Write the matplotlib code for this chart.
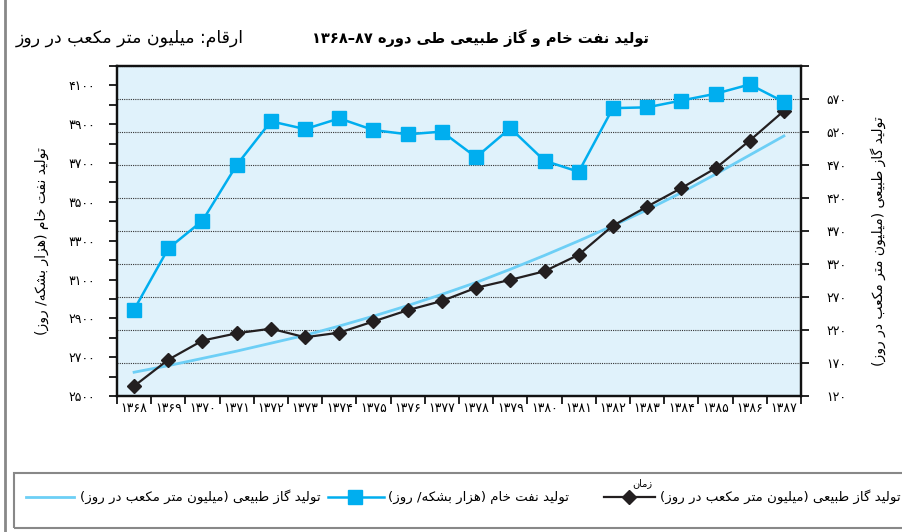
import numpy as np
import matplotlib.pyplot as plt
from matplotlib.lines import Line2D
from matplotlib.patches import Rectangle

years = [1368 + i for i in range(20)]
oil = [2945, 3260, 3403, 3690, 3915, 3875, 3930, 3870, 3848, 3862,
       3730, 3880, 3712, 3655, 3983, 3987, 4022, 4057, 4105, 4015]
gas = [135, 175, 204, 215, 222, 209, 216, 233, 250, 264,
       284, 296, 309, 334, 378, 407, 435, 465, 507, 552]
gas_trend = [156, 166, 177, 188, 200, 212, 226, 241, 257, 274,
             292, 312, 333, 355, 378, 402, 428, 456, 485, 514]

left_ticks = [2500, 2700, 2900, 3100, 3300, 3500, 3700, 3900, 4100]
right_ticks = [120, 170, 220, 270, 320, 370, 420, 470, 520, 570]

title = 'تولید نفت خام و گاز طبیعی طی دوره ۸۷–۱۳۶۸'
unit_text = 'ارقام: میلیون متر مکعب در روز'
oil_label = 'تولید نفت خام (هزار بشکه/ روز)'
gas_label = 'تولید گاز طبیعی (میلیون متر مکعب در روز)'
trend_label = 'تولید گاز طبیعی (میلیون متر مکعب در روز)'
time_word = 'زمان'

# persian shaping (matplotlib has no arabic shaping)
FOUR = {'ب': 0xFE8F, 'ت': 0xFE95, 'ث': 0xFE99, 'ج': 0xFE9D, 'ح': 0xFEA1,
        'خ': 0xFEA5, 'س': 0xFEB1, 'ش': 0xFEB5, 'ص': 0xFEB9, 'ض': 0xFEBD,
        'ط': 0xFEC1, 'ظ': 0xFEC5, 'ع': 0xFEC9, 'غ': 0xFECD, 'ف': 0xFED1,
        'ق': 0xFED5, 'ل': 0xFEDD, 'م': 0xFEE1, 'ن': 0xFEE5, 'ه': 0xFEE9,
        'پ': 0xFB56, 'چ': 0xFB7A, 'ک': 0xFB8E, 'گ': 0xFB92, 'ی': 0xFBFC}
TWO = {'ا': 0xFE8D, 'آ': 0xFE81, 'د': 0xFEA9, 'ذ': 0xFEAB, 'ر': 0xFEAD,
       'ز': 0xFEAF, 'ژ': 0xFB8A, 'و': 0xFEED}
DIGITS = '۰۱۲۳۴۵۶۷۸۹0123456789'


def fa(s):
    out = []
    for i, ch in enumerate(s):
        prev = s[i - 1] if i > 0 else ''
        nxt = s[i + 1] if i + 1 < len(s) else ''
        pj = prev in FOUR
        nj = nxt in FOUR or nxt in TWO
        if ch in FOUR:
            b = FOUR[ch]
            if pj and nj:
                ch = chr(b + 3)
            elif pj:
                ch = chr(b + 1)
            elif nj:
                ch = chr(b + 2)
            else:
                ch = chr(b)
        elif ch in TWO:
            ch = chr(TWO[ch] + (1 if pj else 0))
        out.append(ch)
    out = out[::-1]
    mirror = {'(': ')', ')': '('}
    res, run = [], []
    for ch in out:
        if ch in DIGITS:
            run.append(ch)
        else:
            res.extend(run[::-1])
            run = []
            res.append(mirror.get(ch, ch))
    res.extend(run[::-1])
    return ''.join(res)


def fa_num(n):
    return str(n).translate(str.maketrans('0123456789', '۰۱۲۳۴۵۶۷۸۹'))


W, H = 903, 532
fig = plt.figure(figsize=(W / 100, H / 100), dpi=100)
ax = fig.add_axes([117 / W, 1 - 396 / H, 684 / W, 330 / H])
ax2 = ax.twinx()
ax.set_zorder(2)
ax2.set_zorder(1)
ax.patch.set_visible(False)
ax2.patch.set_visible(True)
ax2.patch.set_facecolor('#E0F2FB')

x = np.arange(len(years))
ax2.plot(x, gas_trend, color='#6DCFF6', lw=2.0, zorder=3)
ax2.plot(x, gas, color='#231F20', lw=1.6, marker='D', ms=7, zorder=4)
ax.plot(x, oil, color='#00AEEF', lw=1.8, marker='s', ms=9.5, zorder=3)

ax.set_xlim(-0.5, len(years) - 0.5)
ax.set_ylim(2500, 4200)
ax2.set_ylim(120, 620)

ax.set_yticks(left_ticks)
ax.set_yticklabels([fa_num(v) for v in left_ticks], fontsize=9)
ax.set_yticks(np.arange(2600, 4201, 200), minor=True)
ax.tick_params(axis='y', which='both', direction='out', length=6, width=1.2, pad=10)

ax2.set_yticks(right_ticks + [620])
ax2.set_yticklabels([fa_num(v) for v in right_ticks] + [''], fontsize=9)
ax2.tick_params(axis='y', direction='out', length=6, width=1.2, pad=12)
ax2.yaxis.grid(True, color='#333333', ls=(0, (1, 1)), lw=0.8)
ax2.set_axisbelow(True)

ax.set_xticks(np.arange(-0.5, len(years), 1))
ax.set_xticklabels([])
ax.set_xticks(x, minor=True)
ax.set_xticklabels([fa_num(y) for y in years], minor=True, fontsize=9)
ax.tick_params(axis='x', which='major', direction='out', length=6, width=1.2)
ax.tick_params(axis='x', which='minor', length=0, pad=4)

for a in (ax, ax2):
    for s in a.spines.values():
        s.set_linewidth(1.6)
        s.set_color('#111111')

ax.text(-0.11, 0.47, fa(oil_label), transform=ax.transAxes, rotation=90,
        ha='center', va='center', fontsize=10)
ax2.text(1.113, 0.47, fa(gas_label), transform=ax2.transAxes, rotation=90,
         ha='center', va='center', fontsize=10)

fig.text(480 / W, 1 - 38 / H, fa(title), ha='center', va='center',
         fontsize=10.5, fontweight='bold')
fig.text(130 / W, 1 - 38 / H, fa(unit_text), ha='center', va='center',
         fontsize=12.5)

# frame lines
fig.add_artist(Line2D([5 / W, 5 / W], [0, 1], transform=fig.transFigure,
                      color='#888888', lw=2))
fig.add_artist(Rectangle((14 / W, 1 - 528 / H), 1.0, 55 / H, fill=False,
                         edgecolor='#888888', lw=1.5, transform=fig.transFigure))

# legend, drawn by hand (handle left of each label)
ly = 1 - 497 / H
fs = 9.6
fig.add_artist(Line2D([26 / W, 74 / W], [ly, ly], transform=fig.transFigure,
                      color='#6DCFF6', lw=2))
fig.text(80 / W, ly, fa(trend_label), ha='left', va='center', fontsize=fs)
fig.add_artist(Line2D([328 / W, 355 / W, 384 / W], [ly, ly, ly], transform=fig.transFigure,
                      color='#00AEEF', lw=1.8, marker='s', ms=9.5, markevery=[1]))
fig.text(388 / W, ly, fa(oil_label), ha='left', va='center', fontsize=fs)
fig.add_artist(Line2D([604 / W, 629 / W, 655 / W], [ly, ly, ly], transform=fig.transFigure,
                      color='#231F20', lw=1.6, marker='D', ms=7, markevery=[1]))
fig.text(660 / W, ly, fa(gas_label), ha='left', va='center', fontsize=fs)
fig.text(642 / W, 1 - 483 / H, fa(time_word), ha='center', va='center', fontsize=7)

plt.savefig('out.png', dpi=100)
